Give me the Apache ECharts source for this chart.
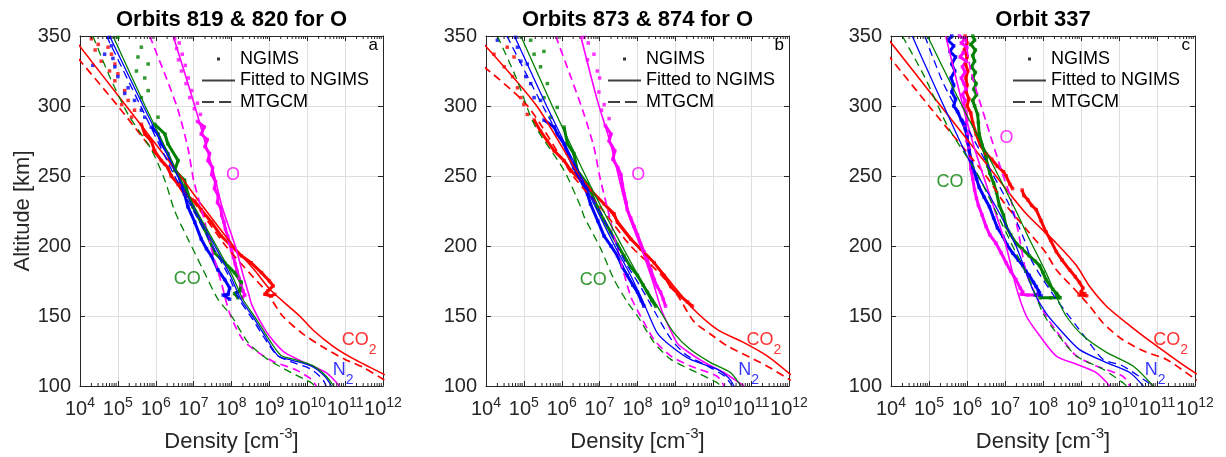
<!DOCTYPE html>
<html><head><meta charset="utf-8">
<script src="https://cdn.jsdelivr.net/npm/echarts@6/dist/echarts.min.js"></script>
<style>html,body{margin:0;padding:0;background:#fff}#chart{width:1226px;height:457px}</style>
</head><body><div id="chart"></div>
<script>
// ---------------- DATA ----------------
// every point: [log10 of number density in cm^-3, altitude in km]
const panelTitles = ['Orbits 819 & 820 for O', 'Orbits 873 & 874 for O', 'Orbit 337'];
const panelLetters = ['a', 'b', 'c'];
const densityExponents = [4, 5, 6, 7, 8, 9, 10, 11, 12];   // x ticks 10^n
const altitudeTicks = [100, 150, 200, 250, 300, 350];
const legendNames = ['NGIMS', 'Fitted to NGIMS', 'MTGCM'];

// ----- panel a -----
const fitCO2_a = [[3.9,346],[5.22,300],[6.65,250],[7.25,228],[8.05,200],[8.6,183],[9.05,168],[9.8,150],[10.15,140],[10.7,128],[11.25,119],[12.05,108]];
const mtgcmCO2_a = [[3.95,334],[5.0,300],[6.45,250],[7.1,228],[7.85,200],[8.5,180],[8.9,168],[9.35,150],[9.85,138],[10.4,128],[11.0,119],[11.5,113],[12.05,104]];
const fitO_a = [[6.46,350],[7.03,300],[7.55,250],[7.75,228],[8.1,200],[8.3,180],[8.45,166],[8.55,157],[8.88,140.5],[9.14,131],[9.4,124],[9.93,116.7],[10.5,109.5],[10.85,100]];
const mtgcmO_a = [[5.84,350],[6.28,320],[6.59,297],[6.85,270],[7.0,247],[7.25,222],[7.45,200],[7.74,173],[7.95,152],[8.3,133],[8.7,124],[9.14,117],[9.67,112],[10.1,105],[10.24,100]];
const fitN2_a = [[4.78,350],[5.67,300],[6.59,250],[6.95,230],[7.56,200],[7.95,180],[8.25,162],[8.6,148],[8.9,135],[9.23,121.5],[9.58,118.5],[10.1,114.3],[10.46,107],[10.64,100]];
const mtgcmN2_a = [[4.7,350],[5.6,300],[6.5,250],[6.9,230],[7.5,200],[7.9,180],[8.2,162],[8.55,148],[8.85,135],[9.2,122],[9.6,117],[10.1,112],[10.4,105],[10.5,100]];
const fitCO_a = [[4.87,350],[5.72,300],[6.62,250],[6.98,230],[7.6,200],[8.0,180],[8.3,162],[8.65,148],[8.95,135],[9.3,122],[9.65,119],[10.15,114.5],[10.5,107],[10.7,100]];
const mtgcmCO_a = [[4.34,350],[4.8,320],[5.27,294],[5.88,269],[6.24,247],[6.5,225],[6.85,205],[7.25,183],[7.64,162],[8.0,150],[8.44,131],[8.96,119],[9.58,109.5],[10.1,102.4],[10.2,100]];
const ngimsCO2_a = [[4.3,348],[4.48,344],[4.74,342],[4.4,340],[4.83,337],[4.56,332],[4.92,330],[4.78,325],[5.0,323],[4.92,318],[5.18,311],[5.27,304],[5.1,301],[5.44,297],[5.36,292],[5.62,287],[5.71,280],[5.88,275],[5.97,268],[6.15,261],[6.32,256],[6.41,250],[6.59,244],[6.76,237],[7.03,232],[7.2,226],[7.47,217],[7.73,207],[8.0,200],[8.26,193],[8.52,188],[8.79,181],[9.0,175],[9.1,171.5],[8.96,168],[8.88,165.5],[9.05,164.3],[9.14,165.5]];
const ngimsO_a = [[6.5,348],[6.62,345],[6.55,341],[6.7,337],[6.6,333],[6.78,329],[6.68,325],[6.86,320],[6.8,316],[6.95,311],[6.9,306],[7.1,302],[7.02,298],[7.18,294],[7.1,289],[7.28,285],[7.2,280],[7.36,276],[7.3,271],[7.42,266],[7.38,261],[7.5,256],[7.48,251],[7.58,246],[7.55,241],[7.65,236],[7.63,231],[7.72,227],[7.74,222],[7.8,217],[7.84,212],[7.9,207],[7.95,202],[8.0,197],[8.05,192],[8.1,187],[8.15,182],[8.2,177],[8.25,172],[8.3,168],[8.35,165],[8.28,163]];
const ngimsN2_a = [[4.78,349],[4.83,343],[4.65,337],[4.87,334],[4.34,329],[4.92,328],[5.0,321],[5.27,313],[5.18,309],[5.44,304],[5.62,297],[5.71,292],[5.88,285],[6.06,280],[6.15,273],[6.32,266],[6.41,259],[6.59,251],[6.68,244],[6.76,237],[6.85,228],[7.03,217],[7.2,205],[7.34,198],[7.47,193],[7.64,183],[7.82,176],[7.95,170],[7.91,165.5],[7.78,165],[7.95,162]];
const ngimsCO_a = [[5.0,349],[5.62,342],[5.53,335],[5.8,330],[5.49,325],[5.71,320],[5.8,311],[5.62,306],[6.06,292],[5.97,287],[6.24,280],[6.32,273],[6.59,261],[6.5,254],[6.76,247],[6.85,237],[6.98,228],[7.29,212],[7.56,195],[7.82,188],[8.08,181],[8.26,174],[8.22,168],[8.08,166],[8.17,163]];

// ----- panel b -----
const fitCO2_b = [[3.95,344],[5.34,300],[6.48,250],[7.3,224],[8.0,200],[8.5,186],[8.88,174],[9.4,157],[10.1,140.5],[10.81,131],[11.43,121.4],[12.05,108]];
const mtgcmCO2_b = [[3.95,328],[5.1,300],[6.3,250],[7.1,225],[7.82,200],[8.6,180],[9.05,165],[9.49,146],[9.93,137],[10.37,128.6],[11.08,119],[11.5,113],[12.05,104]];
const fitO_b = [[6.5,350],[6.94,304],[7.29,273],[7.73,225],[8.08,200],[8.4,175],[8.6,157],[8.7,150],[9.04,131],[9.3,125],[9.76,117],[10.29,109.5],[10.81,100]];
const mtgcmO_b = [[5.84,350],[6.25,320],[6.59,294],[6.85,270.5],[7.0,250],[7.25,222],[7.45,200],[7.82,164],[8.08,150],[8.44,133],[8.88,121.4],[9.4,114.3],[10.1,107],[10.29,100]];
const fitN2_b = [[4.75,350],[5.6,300],[6.5,250],[6.85,230],[7.4,200],[7.8,180],[8.1,163],[8.2,157],[8.52,138],[8.88,128.6],[9.4,119],[10.1,112],[10.4,106],[10.55,100]];
const mtgcmN2_b = [[4.55,350],[5.5,300],[6.5,250],[7.1,220],[7.69,188],[8.1,170],[8.52,150],[8.9,133],[9.3,122],[9.8,115],[10.3,107],[10.5,100]];
const fitCO_b = [[4.92,350],[5.75,300],[6.63,250],[7.03,228.6],[7.64,197.6],[8.08,176],[8.52,157],[8.96,138],[9.4,126],[9.93,116.7],[10.46,109.5],[10.73,100]];
const mtgcmCO_b = [[4.3,350],[4.8,320],[5.27,287],[6.06,254],[6.5,228],[6.59,221],[7.03,198],[7.38,176],[7.73,160],[8.0,150],[8.44,131],[8.88,119],[9.58,109.5],[10.1,102.4],[10.2,100]];
const ngimsCO2_b = [[4.21,337],[4.56,342],[4.74,335],[4.48,328],[4.7,321],[4.83,313],[4.92,306],[5.0,301],[5.09,294],[5.27,290],[5.44,282],[5.62,275],[5.8,268],[6.06,261],[6.24,254],[6.5,247],[6.76,240],[7.12,230],[7.38,223],[7.47,217],[7.82,205],[8.08,198],[8.44,188],[8.7,179],[8.88,171],[9.14,164],[9.32,160],[9.45,157]];
const ngimsO_b = [[6.59,349],[6.7,345],[6.85,337],[6.68,333],[6.94,325],[7.0,320],[6.98,310],[7.12,301],[7.05,297],[7.25,291],[7.15,286],[7.3,280],[7.25,275],[7.4,268],[7.35,262],[7.48,256],[7.56,251],[7.6,244],[7.65,237],[7.7,231],[7.73,226],[7.82,220],[7.91,214],[8.0,208],[8.08,202],[8.17,196],[8.26,190],[8.35,183],[8.44,176],[8.52,171],[8.61,167],[8.68,162],[8.74,157]];
const ngimsN2_b = [[4.3,347],[4.78,349],[4.83,342],[4.92,332],[5.09,330],[5.05,321],[5.18,316],[5.27,306],[5.44,304],[5.53,290],[5.8,285],[5.88,280],[6.06,273],[6.15,266],[6.32,256],[6.5,247],[6.68,237],[6.76,230],[6.95,218],[7.12,207],[7.3,200],[7.47,193],[7.6,185],[7.73,179],[7.88,172],[8.0,167],[8.1,161],[8.17,157]];
const ngimsCO_b = [[5.18,347],[5.27,337],[5.53,339],[5.44,328],[5.62,316],[5.53,306],[5.88,299],[5.71,292],[6.06,285],[6.15,273],[6.32,266],[6.41,254],[6.68,244],[6.94,228],[7.1,219],[7.29,210],[7.47,201],[7.64,193],[7.82,185],[8.0,179],[8.15,172],[8.26,167],[8.38,161],[8.48,157]];

// ----- panel c -----
const fitCO2_c = [[3.92,348],[5.31,300],[6.76,250],[7.56,223],[8.35,202],[8.88,186],[9.23,171],[9.67,157],[10.29,143],[10.99,128.6],[11.6,116.7],[12.05,108.5]];
const mtgcmCO2_c = [[3.9,337],[5.09,297],[6.5,250],[7.0,230],[7.56,212],[8.08,195],[8.35,183],[8.8,170],[9.23,157],[9.58,145],[10.1,133],[10.73,124],[11.25,119],[12.05,104]];
const fitO_c = [[5.44,350],[5.71,320],[5.97,292],[6.24,266],[6.59,237],[6.76,223],[7.03,200],[7.29,171],[7.56,150],[7.91,136],[8.35,121.4],[8.88,115.5],[9.4,109.5],[9.76,100]];
const mtgcmO_c = [[5.95,350],[6.1,325],[6.5,289],[6.94,251],[7.12,237],[7.35,210],[7.56,181],[7.82,164],[8.08,150],[8.52,133],[8.88,121.4],[9.4,114.3],[10.1,107],[10.29,100]];
const fitN2_c = [[4.56,350],[4.92,328],[5.44,297],[6.06,261],[6.76,228],[7.29,200],[7.73,169],[8.08,152],[8.52,138],[8.96,126],[9.67,116.7],[10.29,109.5],[10.64,100]];
const mtgcmN2_c = [[4.89,350],[5.38,316],[6.0,285],[6.6,255],[7.1,230],[7.5,205],[7.73,188],[8.35,162],[8.88,143],[9.3,128],[9.58,119],[10.1,114.3],[10.64,104.8],[10.9,100]];
const fitCO_c = [[4.96,350],[5.5,320],[6.06,290],[6.7,257],[7.29,225],[7.64,205],[8.08,181],[8.35,164],[8.61,150],[9.05,136],[9.67,124],[10.37,114.3],[10.9,100]];
const mtgcmCO_c = [[4.3,350],[4.9,320],[5.5,285],[6.2,255],[6.7,228],[7.29,195],[7.64,176],[8.0,152],[8.35,138],[8.88,121.4],[9.58,112],[10.1,102.4],[10.2,100]];
const ngimsCO2_c = [[5.95,350],[6.0,345],[5.93,340],[6.0,335],[5.96,330],[6.02,325],[5.97,320],[6.0,315],[5.98,310],[6.05,305],[6.0,300],[6.1,295],[6.15,288],[6.24,280],[6.35,272],[6.5,266],[6.65,262],[6.8,257],[6.96,253],[7.03,250],[7.13,244],[7.2,241],null,[7.45,240],[7.5,236],[7.6,233],[7.7,229],[7.82,226],[7.95,218],[8.08,210],[8.2,204],[8.35,196],[8.5,190],[8.7,183],[8.85,178],[8.96,174],[9.05,170],[9.0,167],[9.1,166],[8.95,165],[9.15,164.5]];
const ngimsO_c = [[5.8,350],[5.95,348],[5.85,345],[6.0,342],[5.9,338],[5.82,335],[5.98,332],[5.88,328],[5.95,324],[5.85,320],[5.92,316],[5.98,312],[5.88,308],[5.95,304],[5.9,300],[5.97,296],[6.0,290],[5.95,285],[6.02,280],[6.0,275],[6.05,270],[6.08,262],[6.1,255],[6.15,248],[6.2,240],[6.25,234],[6.3,229],[6.4,222],[6.5,214],[6.6,208],[6.76,202],[6.9,195],[7.03,188],[7.15,182],[7.29,176],[7.4,170],[7.47,167],[7.42,165.5],[7.6,165],[7.83,165]];
const ngimsN2_c = [[5.6,350],[5.5,347],[5.65,343],[5.55,339],[5.7,335],[5.6,330],[5.68,325],[5.58,320],[5.65,315],[5.6,310],[5.7,305],[5.65,300],[5.75,296],[5.85,290],[5.95,284],[6.0,278],[6.06,268],[6.12,260],[6.15,256],[6.25,248],[6.32,242],[6.45,235],[6.59,228],[6.7,220],[6.8,213],[6.94,207],[7.05,201],[7.2,195],[7.35,190],[7.47,186],[7.55,182],[7.64,179],[7.75,174],[7.82,171],[7.88,168],[7.91,166.5],[7.8,165],[7.95,164.5]];
const ngimsCO_c = [[6.15,350],[6.2,347],[6.1,344],[6.22,340],[6.15,336],[6.2,332],[6.12,328],[6.22,324],[6.15,320],[6.24,316],[6.18,312],[6.25,308],[6.15,304],[6.2,300],[6.28,294],[6.3,288],[6.32,280],[6.4,272],[6.5,263],[6.55,257],[6.6,252],[6.7,245],[6.78,238],[6.85,229],[6.96,222],[7.03,214],[7.15,208],[7.29,202],[7.45,198],[7.64,193],[7.8,189],[7.91,186],[8.0,181],[8.08,176],[8.18,172],[8.26,169],[8.36,166],[8.45,163],[8.2,163],[7.92,163]];

// species name annotations (data coordinates: log10 density, altitude)
const speciesLabels_a = [['O',8.04,250.7],['CO',6.83,176.4],['CO2',10.91,133],['N2',10.67,111.4]];
const speciesLabels_b = [['O',8.02,250.7],['CO',6.83,175.7],['CO2',10.88,133],['N2',10.66,111.4]];
const speciesLabels_c = [['O',7.04,276.9],['CO',5.55,246],['CO2',10.9,133],['N2',10.68,111.4]];

// ---------------- BUILD ----------------
const FONT = '"Liberation Sans", Arial, sans-serif';
const AX = '#262626';
const COLORS = {CO2: '#ff0000', O: '#ff00ff', N2: '#0000ff', CO: '#008000'};
const SPECIES = ['CO2', 'O', 'N2', 'CO'];
const panels = [
  {fit: {CO2: fitCO2_a, O: fitO_a, N2: fitN2_a, CO: fitCO_a}, mtgcm: {CO2: mtgcmCO2_a, O: mtgcmO_a, N2: mtgcmN2_a, CO: mtgcmCO_a},
   ngims: {CO2: ngimsCO2_a, O: ngimsO_a, N2: ngimsN2_a, CO: ngimsCO_a}, labels: speciesLabels_a, denseBelow: 290},
  {fit: {CO2: fitCO2_b, O: fitO_b, N2: fitN2_b, CO: fitCO_b}, mtgcm: {CO2: mtgcmCO2_b, O: mtgcmO_b, N2: mtgcmN2_b, CO: mtgcmCO_b},
   ngims: {CO2: ngimsCO2_b, O: ngimsO_b, N2: ngimsN2_b, CO: ngimsCO_b}, labels: speciesLabels_b, denseBelow: 290},
  {fit: {CO2: fitCO2_c, O: fitO_c, N2: fitN2_c, CO: fitCO_c}, mtgcm: {CO2: mtgcmCO2_c, O: mtgcmO_c, N2: mtgcmN2_c, CO: mtgcmCO_c},
   ngims: {CO2: ngimsCO2_c, O: ngimsO_c, N2: ngimsN2_c, CO: ngimsCO_c}, labels: speciesLabels_c, denseBelow: 400}
];
const gridBoxes = [{left: 80, width: 303}, {left: 486, width: 303}, {left: 891, width: 304}];
const GRID_TOP = 36, GRID_H = 350;
const xMin = Math.pow(10, densityExponents[0]), xMax = Math.pow(10, densityExponents[densityExponents.length - 1]);
const yMin = altitudeTicks[0], yMax = altitudeTicks[altitudeTicks.length - 1];
const yStep = altitudeTicks[1] - altitudeTicks[0];

const toXY = p => p === null ? ['-', '-'] : [Math.pow(10, p[0]), p[1]];
const labelText = {O: 'O', CO: 'CO', CO2: '{m|CO}{s|2}', N2: '{m|N}{s|2}'};

const minorTickValues = [];
for (let e = densityExponents[0]; e < densityExponents[densityExponents.length - 1]; e++) {
  for (let k = 2; k <= 9; k++) minorTickValues.push(k * Math.pow(10, e));
}

const grids = [], xAxes = [], yAxes = [], series = [], titles = [], legends = [];
panels.forEach((P, i) => {
  const g = gridBoxes[i];
  grids.push({left: g.left, top: GRID_TOP, width: g.width, height: GRID_H, outerBoundsMode: 'none', containLabel: false});
  const xBase = {type: 'log', logBase: 10, min: xMin, max: xMax, gridIndex: i};
  xAxes.push(Object.assign({}, xBase, {
    position: 'bottom',
    axisLine: {show: true, lineStyle: {color: AX, width: 1}},
    axisTick: {show: true, inside: true, length: 5, lineStyle: {color: AX}},
    splitLine: {show: true, lineStyle: {color: '#dedede', width: 1}},
    axisLabel: {
      margin: 10, color: AX, fontFamily: FONT, showMinLabel: true, showMaxLabel: true, hideOverlap: false,
      formatter: v => { const e = Math.round(Math.log10(v)); return '{b|10}{sup|' + e + '}'; },
      rich: {
        b: {fontSize: 20, lineHeight: 27, color: AX, fontFamily: FONT},
        sup: {fontSize: 14, verticalAlign: 'top', color: AX, fontFamily: FONT}
      }
    },
    name: 'Density [cm{sup|-3}]', nameLocation: 'middle', nameGap: 40,
    nameTextStyle: {fontSize: 22, lineHeight: 32, color: AX, fontFamily: FONT,
      rich: {sup: {fontSize: 15, verticalAlign: 'top', color: AX, fontFamily: FONT}}}
  }));
  xAxes.push(Object.assign({}, xBase, {
    position: 'top',
    axisLine: {show: true, lineStyle: {color: AX, width: 1}},
    axisTick: {show: true, inside: true, length: 5, lineStyle: {color: AX}},
    axisLabel: {show: false}, splitLine: {show: false}
  }));
  const yBase = {type: 'value', min: yMin, max: yMax, interval: yStep, gridIndex: i};
  yAxes.push(Object.assign({}, yBase, {
    position: 'left',
    axisLine: {show: true, lineStyle: {color: AX, width: 1}},
    axisTick: {show: true, inside: true, length: 5, lineStyle: {color: AX}},
    splitLine: {show: true, lineStyle: {color: '#dedede', width: 1}},
    axisLabel: {margin: 9, fontSize: 20, color: AX, fontFamily: FONT, showMinLabel: true, showMaxLabel: true},
    name: i === 0 ? 'Altitude [km]' : '', nameLocation: 'middle', nameGap: 46,
    nameTextStyle: {fontSize: 22, color: AX, fontFamily: FONT}
  }));
  yAxes.push(Object.assign({}, yBase, {
    position: 'right',
    axisLine: {show: true, lineStyle: {color: AX, width: 1}},
    axisTick: {show: true, inside: true, length: 5, lineStyle: {color: AX}},
    axisLabel: {show: false}, splitLine: {show: false}
  }));

  const ax = {xAxisIndex: 2 * i, yAxisIndex: 2 * i};
  // NGIMS measurements: dots, plus a thick trace where samples are dense
  SPECIES.forEach(s => {
    const pts = P.ngims[s];
    series.push(Object.assign({type: 'scatter', silent: true, z: 2, symbol: 'rect', symbolSize: 3.5,
      itemStyle: {color: COLORS[s]}, data: pts.filter(p => p !== null).map(toXY)}, ax));
    series.push(Object.assign({type: 'line', silent: true, z: 2, symbol: 'none', showSymbol: false,
      lineStyle: {color: COLORS[s], width: 3}, connectNulls: false,
      data: pts.filter(p => p === null || p[1] <= P.denseBelow).map(toXY)}, ax));
  });
  // fitted and MTGCM profiles
  SPECIES.forEach(s => {
    const w = (s === 'CO2' || s === 'O') ? 1.6 : 1.3;
    series.push(Object.assign({type: 'line', silent: true, z: 3, symbol: 'none', smooth: 0.25,
      lineStyle: {color: COLORS[s], width: w}, data: P.fit[s].map(toXY)}, ax));
    series.push(Object.assign({type: 'line', silent: true, z: 3, symbol: 'none', smooth: 0.25,
      lineStyle: {color: COLORS[s], width: (s === 'CO' || s === 'N2') ? 1.3 : 1.7, type: [8, 5]}, data: P.mtgcm[s].map(toXY)}, ax));
  });
  // species annotations
  series.push(Object.assign({type: 'scatter', silent: true, z: 6, symbolSize: 0,
    data: P.labels.map(l => ({
      value: [Math.pow(10, l[1]), l[2]],
      label: {
        show: true, formatter: labelText[l[0]],
        position: (l[0] === 'CO2' || l[0] === 'N2') ? 'right' : 'inside', distance: 0,
        color: COLORS[l[0]], fontSize: 18, fontFamily: FONT,
        rich: {
          m: {fontSize: 18, lineHeight: 34, color: COLORS[l[0]], fontFamily: FONT},
          s: {fontSize: 14, verticalAlign: 'bottom', color: COLORS[l[0]], fontFamily: FONT}
        }
      }
    }))}, ax));
  // log minor ticks on bottom and top edges
  series.push(Object.assign({type: 'custom', silent: true, z: 5, clip: false,
    data: minorTickValues.map(v => [v, yMin]),
    renderItem: (params, api) => {
      const b = api.coord([api.value(0), yMin]);
      const t = api.coord([api.value(0), yMax]);
      const st = {stroke: AX, lineWidth: 1};
      return {type: 'group', children: [
        {type: 'line', shape: {x1: b[0], y1: b[1], x2: b[0], y2: b[1] - 3}, style: st},
        {type: 'line', shape: {x1: t[0], y1: t[1], x2: t[0], y2: t[1] + 3}, style: st}
      ]};
    }}, ax));

  titles.push({text: panelTitles[i], left: g.left + g.width / 2, top: 9, padding: 0, textAlign: 'center',
    textStyle: {fontSize: 22, fontWeight: 'bold', color: '#000', fontFamily: FONT}});
  titles.push({text: panelLetters[i], left: g.left + g.width - 5, top: 37, padding: 0, textAlign: 'right',
    textStyle: {fontSize: 17, fontWeight: 'normal', color: '#000', fontFamily: FONT}});
  legends.push({
    left: g.left + 121, top: 50, orient: 'vertical', itemWidth: 33, itemHeight: 14, itemGap: 3.5,
    selectedMode: false, padding: 0,
    textStyle: {fontSize: 18, color: '#000', fontFamily: FONT},
    data: [
      {name: legendNames[0], icon: 'path://M15,5.5h3v3h-3z M0,0 M33,14'},
      {name: legendNames[1], itemStyle: {opacity: 0}},
      {name: legendNames[2], itemStyle: {opacity: 0}, lineStyle: {type: [12, 5]}}
    ]
  });
});

// entries used by the legends
series.push({name: legendNames[0], type: 'scatter', data: [], itemStyle: {color: '#000'}});
series.push({name: legendNames[1], type: 'line', data: [], symbol: 'none', lineStyle: {color: '#404040', width: 1}, itemStyle: {color: '#404040'}});
series.push({name: legendNames[2], type: 'line', data: [], symbol: 'none', lineStyle: {color: '#404040', width: 1, type: [12, 5]}, itemStyle: {color: '#404040'}});

const chart = echarts.init(document.getElementById('chart'), null, {renderer: 'canvas'});
chart.setOption({
  backgroundColor: '#fff',
  animation: false,
  textStyle: {fontFamily: FONT},
  title: titles,
  legend: legends,
  grid: grids,
  xAxis: xAxes,
  yAxis: yAxes,
  series: series
});
</script>
</body></html>
